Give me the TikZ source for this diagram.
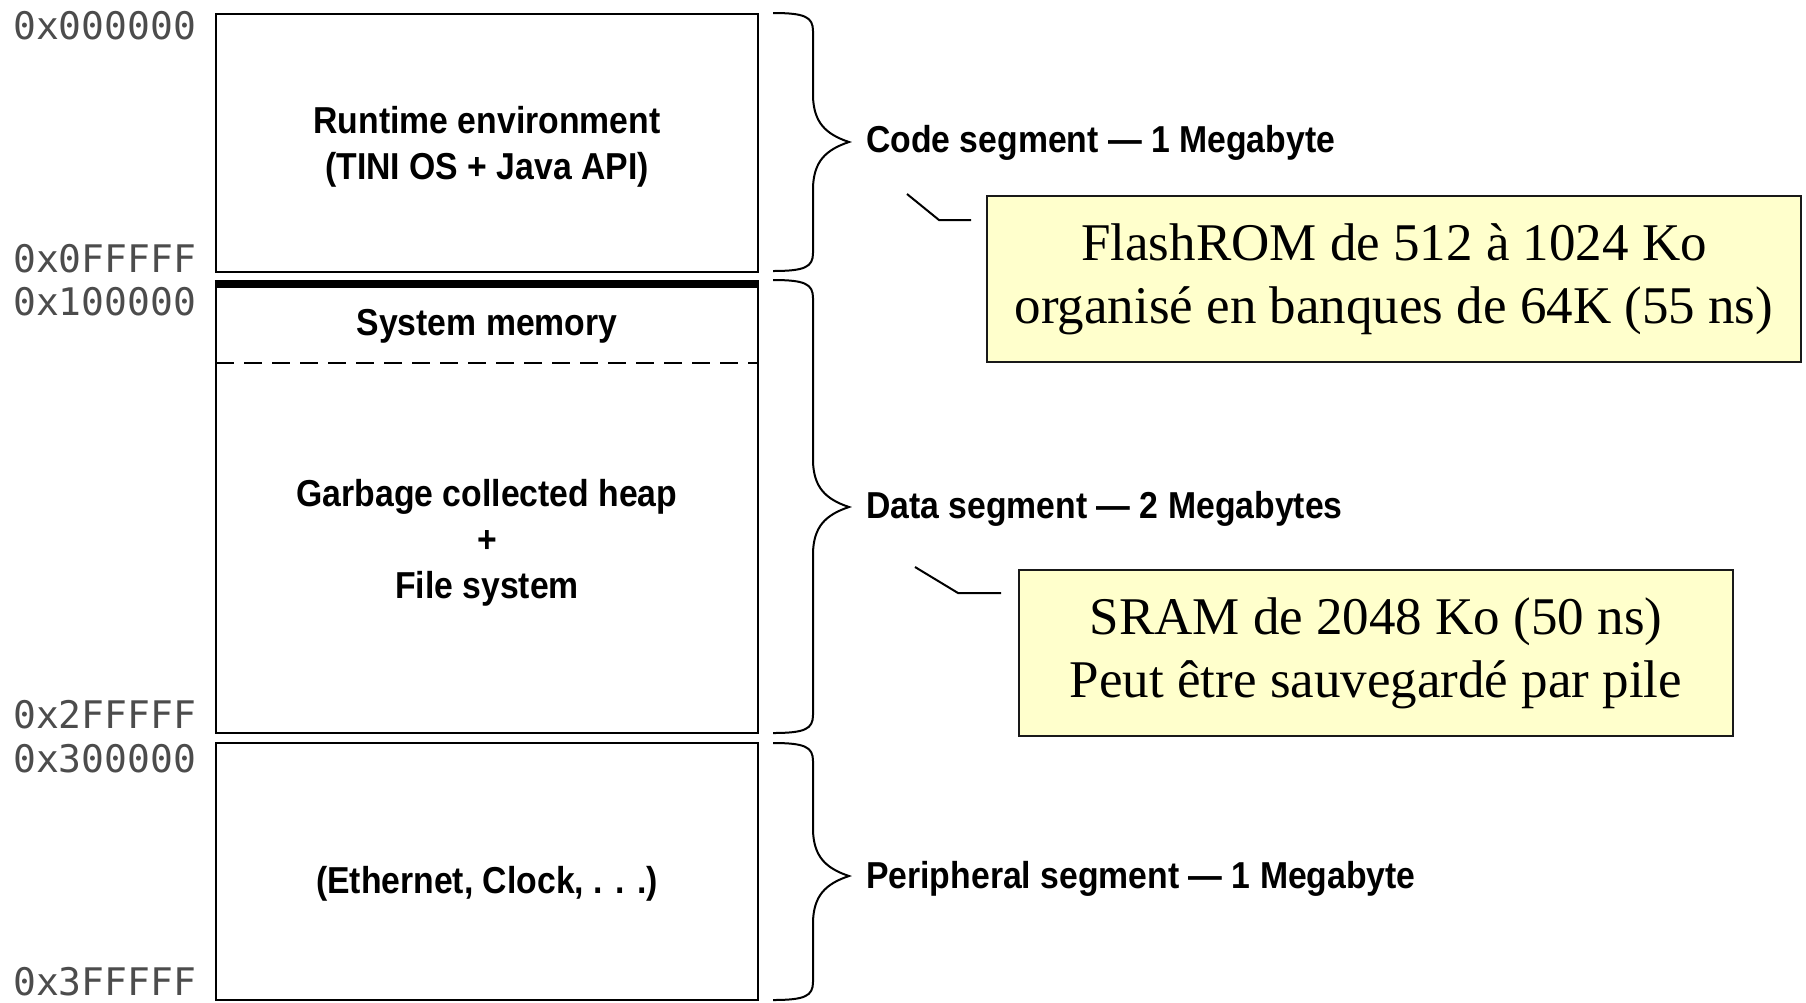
\documentclass[tikz,border=0pt]{standalone}
\usepackage{fontspec}
\setmainfont{Liberation Serif}
\newfontfamily\condsans[FakeStretch=0.9]{Liberation Sans}
\newfontfamily\addrmono{DejaVu Sans Mono}
\definecolor{notefill}{HTML}{FFFFCC}
\newcommand\segbrace[3]{%
  \draw[bracestyle] (773,#1) .. controls (805,#1) and (813,{#1+4}) .. (813,{#1+18})
    -- (813,{#2-45}) .. controls (814,{#2-20}) and (825,{#2-8}) .. (849,#2)
    .. controls (825,{#2+8}) and (814,{#2+20}) .. (813,{#2+45})
    -- (813,{#3-18}) .. controls (813,{#3-4}) and (805,#3) .. (773,#3);}
\begin{document}
\begin{tikzpicture}[x=1pt,y=-1pt,
  memrect/.style={draw, line width=2.5pt, minimum width=542pt, inner sep=0pt},
  memtxt/.style={font=\condsans\bfseries\fontsize{37.5}{46}\selectfont, align=center, inner sep=0pt},
  segtxt/.style={font=\condsans\bfseries\fontsize{37.5}{46}\selectfont, anchor=base west, inner sep=0pt},
  addr/.style={font=\addrmono\fontsize{38}{38}\selectfont, text=black!70, anchor=base west, inner sep=0pt},
  notebox/.style={draw=black!90, line width=2.5pt, fill=notefill, align=center, inner sep=0pt,
    font=\fontsize{53}{63}\selectfont},
  bracestyle/.style={line width=2pt},
  callout/.style={line width=2pt},
  divider/.style={line width=2pt, dash pattern=on 18pt off 10pt}
]
\useasboundingbox (0,0) rectangle (1806,1002);

% memory blocks
\node[memrect, minimum height=258pt] (code) at (487,143) {};
\node[memrect, minimum height=448pt] (data) at (487,509) {};
\node[memrect, minimum height=257pt] (periph) at (487,871.5) {};
\draw[line width=8pt] (data.north west) -- (data.north east);
\coordinate (divl) at (216,363);
\coordinate (divr) at (758,363);
\draw[divider] (divl) -- (divr);

% block texts
\node[memtxt] (rtxt) at (487,146.5) {Runtime environment\\(TINI OS + Java API)};
\node[memtxt, anchor=base] (systxt) at (487,335) {System memory};
\node[memtxt] (heaptxt) at (487,543) {Garbage collected heap\\+\\File system};
\node[memtxt, anchor=base] (pertxt) at (487,893) {(Ethernet, Clock, . . .)};

% addresses
\node[addr] (a0) at (13,39) {0x000000};
\node[addr] (a1) at (13,272) {0x0FFFFF};
\node[addr] (a2) at (13,315) {0x100000};
\node[addr] (a3) at (13,728) {0x2FFFFF};
\node[addr] (a4) at (13,772) {0x300000};
\node[addr] (a5) at (13,995) {0x3FFFFF};

% braces
\segbrace{13}{142}{271}
\segbrace{280}{507}{733}
\segbrace{743}{876}{1000}

% segment labels
\node[segtxt] (lcode) at (866,152) {Code segment — 1 Megabyte};
\node[segtxt] (ldata) at (866,518) {Data segment — 2 Megabytes};
\node[segtxt] (lper) at (866,888) {Peripheral segment — 1 Megabyte};

% notes
\node[notebox, minimum width=814pt, minimum height=166pt] (flash) at (1394,279)
  {FlashROM de 512 à 1024 Ko\\organisé en banques de 64K (55 ns)};
\node[notebox, minimum width=714pt, minimum height=166pt] (sram) at (1376,653)
  {SRAM de 2048 Ko (50 ns)\\Peut être sauvegardé par pile};

% callouts
\coordinate (c1a) at (907,194);
\coordinate (c1b) at (939,220);
\coordinate (c1c) at (971,220);
\draw[callout] (c1a) -- (c1b) -- (c1c);
\coordinate (c2a) at (915,567);
\coordinate (c2b) at (958,593);
\coordinate (c2c) at (1001,593);
\draw[callout] (c2a) -- (c2b) -- (c2c);
\end{tikzpicture}
\end{document}
